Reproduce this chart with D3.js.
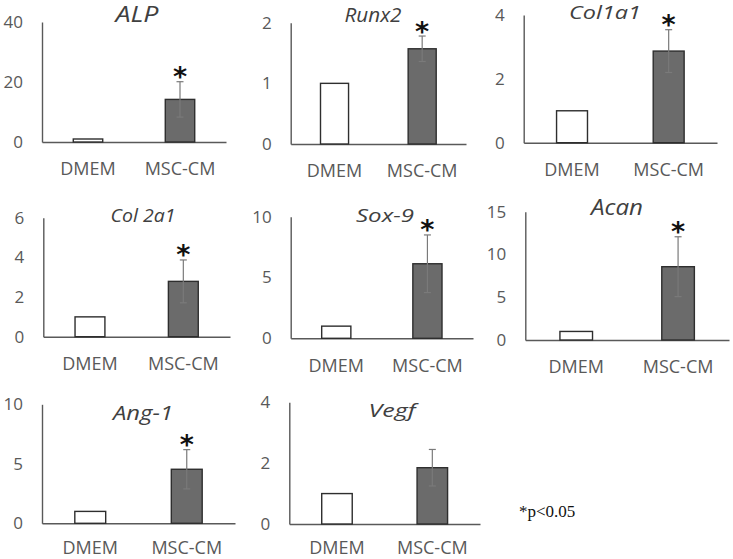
<!DOCTYPE html>
<html>
<head>
<meta charset="utf-8">
<script src="https://cdn.jsdelivr.net/npm/d3@7"></script>
<style>
  html, body { margin: 0; padding: 0; background: #fff; }
  svg { display: block; }
</style>
</head>
<body>
<script>
// ---- data ----
const genes = ["ALP", "Runx2", "Col1a1", "Col 2a1", "Sox-9", "Acan", "Ang-1", "Vegf"];
const categories = ["DMEM", "MSC-CM"];
const dmemValues = [1, 1, 1, 1, 1, 1, 1, 1];
const mscValues = [14.2, 1.57, 2.87, 2.79, 6.13, 8.57, 4.54, 1.85];
const mscErrors = [5.9, 0.21, 0.67, 1.08, 2.37, 3.5, 1.65, 0.6];
const yMaxes = [40, 2, 4, 6, 10, 15, 10, 4];
const yTickSteps = [20, 1, 2, 2, 5, 5, 5, 2];
const significant = [true, true, true, true, true, true, true, false];
const footnote = "*p<0.05";

// ---- layout (pixel frames of each panel, title placement) ----
const frames = [
  { ax: 42,    top: 22,    base: 142,   right: 226, tx: 137, ty: 21.5, tw: 43, ts: 21.5, lp: 20.5 },
  { ax: 290.7, top: 22.7,  base: 144,   right: 466, tx: 373, ty: 21.5, tw: 57, ts: 20, lp: 20.5 },
  { ax: 523.7, top: 15,    base: 142.7, right: 717, tx: 605, ty: 18.5, tw: 72, ts: 19, lp: 20.5 },
  { ax: 43.3,  top: 217.7, base: 336.7, right: 230, tx: 143, ty: 221.5, tw: 65, ts: 19, lp: 20.5 },
  { ax: 290.7, top: 216.7, base: 338.3, right: 473, tx: 385, ty: 221.5, tw: 58, ts: 19, lp: 20.5 },
  { ax: 525.3, top: 211.7, base: 340,   right: 729, tx: 617, ty: 215, tw: 52, ts: 21, lp: 20.5 },
  { ax: 42,    top: 404.3, base: 523.3, right: 235, tx: 143, ty: 420, tw: 60, ts: 20, lp: 18.3 },
  { ax: 289.3, top: 402.3, base: 524,   right: 480, tx: 392, ty: 416.5, tw: 47, ts: 19, lp: 17.6 }
];

const W = 733, H = 559;
const svg = d3.select("body").append("svg").attr("width", W).attr("height", H);
svg.append("rect").attr("width", W).attr("height", H).attr("fill", "#fff");

const sans = "'Open Sans', 'Segoe UI', Arial, sans-serif";

genes.forEach((gene, i) => {
  const f = frames[i];
  const g = svg.append("g");
  const x = d3.scaleBand().domain(categories).range([f.ax, f.right])
    .paddingInner(0.68).paddingOuter(0.34);
  const y = d3.scaleLinear().domain([0, yMaxes[i]]).range([f.base, f.top]);
  const ticks = d3.range(0, yMaxes[i] + 1e-9, yTickSteps[i]);

  // y axis
  const yAxis = d3.axisLeft(y).tickValues(ticks).tickSize(0).tickPadding(19).tickFormat(d3.format("d"));
  const ya = g.append("g").attr("transform", `translate(${f.ax},0)`).call(yAxis);
  ya.select(".domain").attr("stroke", "#595959").attr("stroke-width", 1.4);
  ya.selectAll("text").attr("font-family", sans).attr("font-size", 17).attr("fill", "#595959");

  // x axis
  const xAxis = d3.axisBottom(x).tickSize(0).tickPadding(f.lp);
  const xa = g.append("g").attr("transform", `translate(0,${f.base})`).call(xAxis);
  xa.select(".domain").attr("stroke", "#595959").attr("stroke-width", 1.4);
  xa.selectAll("text").attr("font-family", sans).attr("font-size", 18).attr("fill", "#595959");

  const vals = [dmemValues[i], mscValues[i]];
  // bars
  g.selectAll("rect.bar").data(categories).enter().append("rect")
    .attr("class", "bar")
    .attr("x", d => x(d))
    .attr("width", x.bandwidth())
    .attr("y", (d, k) => y(vals[k]))
    .attr("height", (d, k) => f.base - y(vals[k]))
    .attr("fill", (d, k) => k === 0 ? "#ffffff" : "#6b6b6b")
    .attr("stroke", "#2e2e2e")
    .attr("stroke-width", 1.4);

  // error bar
  const cx = x("MSC-CM") + x.bandwidth() / 2;
  const hi = y(mscValues[i] + mscErrors[i]);
  const lo = y(mscValues[i] - mscErrors[i]);
  const eg = g.append("g").attr("stroke", "#7a7a7a").attr("stroke-width", 1.2);
  eg.append("line").attr("x1", cx).attr("x2", cx).attr("y1", hi).attr("y2", lo);
  eg.append("line").attr("x1", cx - 3.5).attr("x2", cx + 3.5).attr("y1", hi).attr("y2", hi);
  eg.append("line").attr("x1", cx - 3.5).attr("x2", cx + 3.5).attr("y1", lo).attr("y2", lo);

  if (significant[i]) {
    g.append("text").attr("x", cx).attr("y", hi + 4.5)
      .attr("text-anchor", "middle")
      .attr("font-family", "'DejaVu Sans', sans-serif")
      .attr("font-weight", "bold")
      .attr("font-size", 27)
      .attr("fill", "#111")
      .text("*");
  }

  // title
  g.append("text").attr("x", f.tx).attr("y", f.ty)
    .attr("text-anchor", "middle")
    .attr("font-family", sans)
    .attr("font-style", "italic")
    .attr("font-size", f.ts)
    .attr("textLength", f.tw)
    .attr("lengthAdjust", "spacingAndGlyphs")
    .attr("fill", "#404040")
    .text(gene);
});

svg.append("text").attr("x", 519).attr("y", 517)
  .attr("font-family", "'Liberation Serif', 'Times New Roman', serif")
  .attr("font-size", 17)
  .attr("fill", "#111")
  .text(footnote);
</script>
</body>
</html>
